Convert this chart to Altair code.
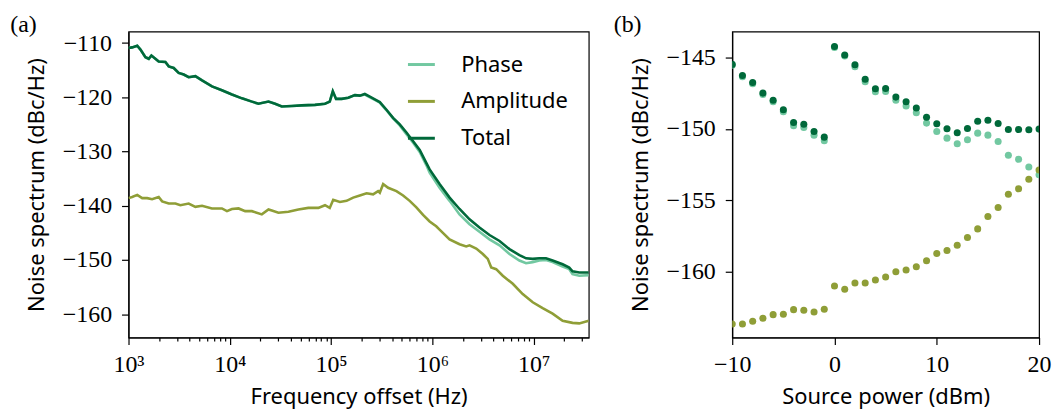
import altair as alt
import pandas as pd

# ---------------- Panel (a): noise spectra vs frequency offset ----------------
total_freq = [1000, 1086, 1219, 1312, 1469, 1585, 1683, 1816, 1986, 2312, 2495, 2793, 3126, 3508,
              3926, 4571, 5321, 6668, 8356, 10495, 13183, 16520, 19187, 24099, 27990, 32584, 40926,
              51286, 69343, 87096, 97000, 104000, 112000, 127057, 147911, 171791, 192309, 215278,
              241546, 270396, 302691, 352371, 409261, 476431, 554626, 645654, 749894, 870964,
              939723, 1178000, 1479000, 1854000, 2328000, 2917000, 3664000, 4603000, 5768000,
              7228000, 8414000, 9772000, 11380000, 13240000, 15380000, 19320000, 22440000,
              24210000, 28180000, 35000000]
total_db = [-110.9, -110.8, -110.5, -111.2, -112.6, -112.9, -112.3, -112.8, -113.4, -113.5, -114.3,
            -114.6, -115.5, -115.8, -116.3, -116.1, -116.9, -118.0, -118.7, -119.5, -120.2, -120.8,
            -121.2, -120.8, -121.2, -121.7, -121.6, -121.5, -121.4, -121.2, -120.8, -118.9, -120.3,
            -120.3, -120.1, -119.6, -119.7, -119.4, -119.9, -120.4, -120.9, -122.3, -123.8, -125.0,
            -126.5, -128.1, -129.7, -132.1, -133.3, -136.0, -138.5, -140.6, -142.5, -144.0, -145.4,
            -146.5, -148.0, -149.1, -149.7, -149.8, -149.7, -149.7, -150.1, -150.8, -151.4, -152.1,
            -152.3, -152.3]
phase_db = [-110.9, -110.8, -110.5, -111.2, -112.6, -112.9, -112.3, -112.8, -113.4, -113.5, -114.3,
            -114.6, -115.5, -115.8, -116.3, -116.1, -116.9, -118.0, -118.7, -119.5, -120.2, -120.8,
            -121.2, -120.8, -121.2, -121.7, -121.6, -121.5, -121.4, -121.2, -120.8, -118.9, -120.3,
            -120.3, -120.1, -119.6, -119.7, -119.5, -120.0, -120.5, -121.0, -122.4, -123.9, -125.2,
            -126.8, -128.4, -130.1, -132.5, -133.9, -136.7, -139.1, -141.6, -143.4, -144.8, -146.2,
            -147.3, -148.9, -150.1, -150.6, -150.4, -150.1, -150.0, -150.4, -151.2, -151.7, -152.6,
            -152.9, -152.8]
amp_freq = [1000, 1086, 1219, 1365, 1528, 1710, 1986, 2148, 2495, 2904, 3251, 3926, 4571, 5321,
            6668, 8356, 9376, 10495, 12190, 14191, 16520, 20701, 24099, 26002, 30200, 37931, 47534,
            59566, 74817, 87096, 97000, 105000, 122200, 142200, 165200, 192300, 223900, 260000,
            291100, 302700, 326600, 365600, 441600, 514000, 597000, 695000, 809000, 940000,
            1091000, 1178000, 1479000, 1854000, 2158000, 2328000, 2710000, 3148000, 3524000,
            3811000, 4266000, 4955000, 6223000, 7798000, 9795000, 12270000, 15380000, 19320000,
            24210000, 28180000, 35000000]
amp_db = [-138.6, -138.4, -138.0, -138.6, -138.6, -138.8, -138.4, -139.2, -139.6, -139.6, -139.9,
          -139.6, -140.2, -140.0, -140.5, -140.5, -141.0, -140.6, -140.5, -141.0, -141.0, -141.6,
          -140.7, -140.9, -141.3, -141.1, -140.7, -140.4, -140.4, -139.9, -140.4, -138.9, -139.3,
          -139.1, -138.5, -138.1, -137.7, -137.9, -137.3, -137.6, -136.0, -136.7, -137.3, -138.1,
          -139.1, -140.3, -141.7, -142.9, -143.8, -144.4, -146.2, -147.1, -147.5, -147.3, -147.9,
          -148.9, -149.8, -151.4, -151.7, -152.9, -154.4, -156.3, -157.8, -158.9, -159.9, -161.2,
          -161.6, -161.7, -161.2]

# ---------------- Panel (b): noise vs source power ----------------
power_dbm = [-10, -9, -8, -7, -6, -5, -4, -3, -2, -1, 0, 1, 2, 3, 4, 5, 6, 7, 8, 9, 10,
             11, 12, 13, 14, 15, 16, 17, 18, 19, 20]
b_phase = [-145.55, -146.35, -146.85, -147.6, -148.1, -148.8, -149.79, -149.9, -150.44, -150.83,
           -144.3, -144.9, -145.65, -146.7, -147.4, -147.38, -148.0, -148.4, -148.87, -149.6,
           -150.19, -150.65, -151.04, -150.76, -150.3, -150.44, -150.88, -151.85, -152.13,
           -152.67, -153.21]
b_amp = [-163.65, -163.65, -163.47, -163.26, -163.0, -162.98, -162.65, -162.7, -162.81, -162.63,
         -161.0, -161.23, -160.79, -160.79, -160.58, -160.37, -160.0, -159.88, -159.65, -159.23,
         -158.72, -158.51, -158.14, -157.6, -157.0, -156.14, -155.51, -154.58, -154.19, -153.53,
         -152.88]
b_total = [-145.49, -146.27, -146.76, -147.5, -148.0, -148.66, -149.56, -149.68, -150.19, -150.58,
           -144.24, -144.84, -145.51, -146.53, -147.2, -147.18, -147.78, -148.1, -148.54, -149.19,
           -149.65, -150.0, -150.28, -149.98, -149.47, -149.4, -149.63, -150.05, -150.05, -150.07,
           -150.02]

series_names = ["Phase", "Amplitude", "Total"]
series_colors = ["#72c8a1", "#8f9e37", "#00693a"]

x_major = [1000, 10000, 100000, 1000000, 10000000]
x_minor = [m * d for d in [1000, 10000, 100000, 1000000] for m in range(2, 10)] + [20000000, 30000000]
y_ticks_a = [-110, -120, -130, -140, -150, -160]
x_ticks_b = [-10, 0, 10, 20]
y_ticks_b = [-145, -150, -155, -160]

SERIF = "Liberation Serif"
SANS = "Noto Sans"
FS = 24
TFS = 22

df_a = pd.concat([
    pd.DataFrame({"series": "Phase", "freq": total_freq, "db": phase_db}),
    pd.DataFrame({"series": "Amplitude", "freq": amp_freq, "db": amp_db}),
    pd.DataFrame({"series": "Total", "freq": total_freq, "db": total_db}),
])
df_b = pd.concat([
    pd.DataFrame({"series": "Phase", "p": power_dbm, "db": b_phase}),
    pd.DataFrame({"series": "Amplitude", "p": power_dbm, "db": b_amp}),
    pd.DataFrame({"series": "Total", "p": power_dbm, "db": b_total}),
])

color_scale = alt.Scale(domain=series_names, range=series_colors)

sup = {1000: "10³", 10000: "10⁴", 100000: "10⁵", 1000000: "10⁶", 10000000: "10⁷"}
label_expr = " : ".join(f"datum.value == {k} ? '{v}'" for k, v in sup.items()) + " : ''"

common_axis = dict(labelFont=SERIF, labelFontSize=FS, labelColor="black",
                   titleFont=SANS, titleFontSize=TFS, titleFontWeight="normal", titleColor="black",
                   grid=False, domainColor="black", domainWidth=1.2, tickColor="black", tickWidth=1.2)

x_axis_a = alt.Axis(
    values=x_major + x_minor, labelExpr=label_expr, title="Frequency offset (Hz)",
    tickSize={"condition": {"test": "indexof([1000,10000,100000,1000000,10000000], datum.value) >= 0",
                            "value": 7}, "value": 3.5},
    labelFlush=False, labelOverlap=False, labelPadding=8, titlePadding=10, **common_axis
)
y_axis_a = alt.Axis(values=y_ticks_a, title="Noise spectrum (dBc/Hz)", labelPadding=10,
                    titlePadding=14, tickSize=7, **common_axis)

legend = alt.Legend(title=None, orient="none", legendX=279, legendY=18, symbolType="stroke",
                    symbolSize=729, symbolStrokeWidth=3, labelFontSize=TFS, labelFont=SANS,
                    rowPadding=11, labelOffset=25, padding=0, labelColor="black")

x_a = alt.X("freq:Q", scale=alt.Scale(type="log", domain=[1000, 35000000], nice=False), axis=x_axis_a)
y_a = alt.Y("db:Q", scale=alt.Scale(domain=[-164.3, -107.9], nice=False, zero=False), axis=y_axis_a)

lines = [
    alt.Chart(df_a).transform_filter(alt.datum.series == s).mark_line(strokeWidth=2.6, clip=True)
    .encode(x=x_a, y=y_a, color=alt.Color("series:N", scale=color_scale, legend=legend))
    for s in series_names
]
label_a = alt.Chart(alt.Data(values=[{"t": "(a)"}])).mark_text(
    font=SERIF, fontSize=24, align="left", baseline="alphabetic", color="black"
).encode(x=alt.value(-118.7), y=alt.value(0), text="t:N")

panel_a = alt.layer(*lines, label_a).properties(width=462, height=307)

x_b = alt.X("p:Q", scale=alt.Scale(domain=[-10, 20], nice=False),
            axis=alt.Axis(values=x_ticks_b, title="Source power (dBm)", labelPadding=8,
                          titlePadding=10, tickSize=7, labelFlush=False, **common_axis))
y_b = alt.Y("db:Q", scale=alt.Scale(domain=[-164.6, -143.2], nice=False, zero=False),
            axis=alt.Axis(values=y_ticks_b, title="Noise spectrum (dBc/Hz)", labelPadding=10,
                          titlePadding=14, tickSize=7, **common_axis))
dots = [
    alt.Chart(df_b).transform_filter(alt.datum.series == s).mark_circle(size=50, opacity=1, clip=True)
    .encode(x=x_b, y=y_b, color=alt.Color("series:N", scale=color_scale, legend=None))
    for s in series_names
]
label_b = alt.Chart(alt.Data(values=[{"t": "(b)"}])).mark_text(
    font=SERIF, fontSize=24, align="left", baseline="alphabetic", color="black"
).encode(x=alt.value(-119), y=alt.value(0), text="t:N")

panel_b = alt.layer(*dots, label_b).properties(width=308, height=307)

chart = alt.hconcat(panel_a, panel_b, spacing=144, bounds="flush").resolve_scale(
    color="independent"
).properties(
    padding={"left": 9, "top": 11, "right": 2, "bottom": 0}
).configure(background="white").configure_view(
    stroke="black", strokeWidth=1.2
)

chart.save("out.html", embed_options={"renderer": "svg", "actions": False})
